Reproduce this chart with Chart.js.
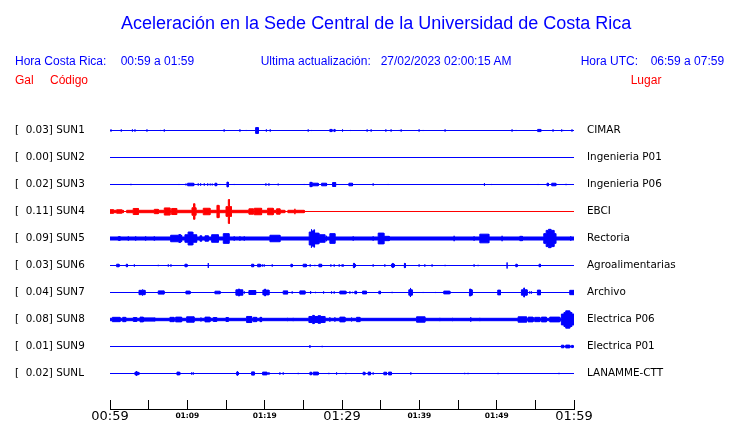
<!DOCTYPE html>
<html lang="es">
<head>
<meta charset="UTF-8">
<title>Aceleración en la Sede Central de la Universidad de Costa Rica</title>
<script src="https://cdn.jsdelivr.net/npm/chart.js@4"></script>
<style>
  html, body { margin: 0; padding: 0; background: #fff; }
  #marco { position: relative; width: 740px; height: 423px; overflow: hidden; }
  #grafico { position: absolute; left: 0; top: 0; }
  .txt { position: absolute; font-family: 'Liberation Sans', Arial, sans-serif; font-size: 12px; line-height: 14px; color: #0000ff; white-space: pre; }
  .titulo { font-size: 18px; line-height: 20px; left: 121px; top: 13px; }
  .l2 { top: 54px; }
  .l3 { top: 73px; color: #ff0000; }
</style>
</head>
<body>
<div id="marco">
  <canvas id="grafico" width="740" height="423"></canvas>
  <div class="txt titulo">Aceleración en la Sede Central de la Universidad de Costa Rica</div>
  <div class="txt l2" style="left:15px">Hora Costa Rica:</div>
  <div class="txt l2" style="left:120.7px">00:59 a 01:59</div>
  <div class="txt l2" style="left:260.7px">Ultima actualización:</div>
  <div class="txt l2" style="left:380.7px">27/02/2023 02:00:15 AM</div>
  <div class="txt l2" style="left:580.7px">Hora UTC:</div>
  <div class="txt l2" style="left:650.7px">06:59 a 07:59</div>
  <div class="txt l3" style="left:15px">Gal</div>
  <div class="txt l3" style="left:50px">Código</div>
  <div class="txt l3" style="left:630.7px">Lugar</div>
</div>
<script>
// ventana de 60 minutos, 00:59 a 01:59 hora local
const DURACION = 60;
const SEPARACION = 0.25; // gal entre una traza y la siguiente

const codigos = ['SUN1', 'SUN2', 'SUN3', 'SUN4', 'SUN5', 'SUN6', 'SUN7', 'SUN8', 'SUN9', 'SUNL'];
const maximos = [0.03, 0.00, 0.02, 0.11, 0.09, 0.03, 0.04, 0.08, 0.01, 0.02];
const lugares = ['CIMAR', 'Ingenieria P01', 'Ingenieria P06', 'EBCI', 'Rectoria', 'Agroalimentarias',
  'Archivo', 'Electrica P06', 'Electrica P01', 'LANAMME-CTT'];
const trazasRojas = ['SUN4'];
const etiquetasTiempo = ['00:59', '01:09', '01:19', '01:29', '01:39', '01:49', '01:59'];

const eventosSUN1 = [
  [0.13, 0.13, 0.01], [1.46, 1.46, 0.01], [2.9, 2.9, 0.01], [3.23, 3.23, 0.01], [4.78, 4.78, 0.01],
  [6.53, 6.53, 0.005], [7.02, 7.02, 0.01], [14.76, 14.76, 0.01], [16.8, 16.8, 0.01], [17.61, 17.61, 0.005],
  [18.83, 19.17, 0.027], [20.22, 20.22, 0.01], [20.72, 20.72, 0.01], [25.63, 25.63, 0.01], [26.07, 26.07, 0.005],
  [28.43, 28.7, 0.01], [28.95, 29.08, 0.01], [30.07, 30.07, 0.01], [31.1, 31.1, 0.005], [33.25, 33.25, 0.01],
  [33.77, 33.77, 0.01], [35.67, 35.67, 0.01], [36.35, 36.35, 0.01], [37.39, 37.39, 0.005], [37.65, 37.65, 0.01],
  [39.97, 39.97, 0.01], [40.49, 40.49, 0.005], [43.33, 43.33, 0.01], [51.99, 51.99, 0.01], [52.51, 52.51, 0.005],
  [55.3, 55.7, 0.01], [57.29, 57.29, 0.01], [58.41, 58.41, 0.01], [58.67, 58.67, 0.005], [59.74, 59.74, 0.01]
];
const eventosSUN2 = [];
const eventosSUN3 = [
  [2.71, 2.71, 0.006], [8.92, 8.92, 0.005], [9.82, 9.82, 0.008], [10.04, 10.82, 0.012], [11.41, 11.41, 0.01],
  [11.72, 11.72, 0.01], [12.19, 12.19, 0.01], [12.63, 12.63, 0.01], [12.96, 12.96, 0.008], [13.22, 13.22, 0.008],
  [13.57, 13.79, 0.012], [14.22, 14.22, 0.005], [15.12, 15.29, 0.022], [16.06, 16.06, 0.005], [20.16, 20.16, 0.01],
  [20.55, 20.55, 0.01], [21.75, 21.75, 0.008], [25.11, 25.11, 0.005], [25.85, 26.1, 0.02], [26.1, 26.92, 0.012],
  [27.36, 28.0, 0.012], [28.78, 29.17, 0.018], [30.89, 31.36, 0.012], [34.03, 34.03, 0.01], [35.97, 35.97, 0.005],
  [48.42, 48.42, 0.012], [49.33, 49.33, 0.005], [55.35, 55.35, 0.005], [56.51, 56.69, 0.012], [57.12, 57.64, 0.012],
  [58.97, 58.97, 0.006]
];
const eventosSUN4 = [
  [0, 1.72, 0.011], [2.15, 22.6, 0.011], [23.0, 25.11, 0.011],
  [0, 0.43, 0.017], [0.86, 1.51, 0.016], [3.0, 3.66, 0.028], [5.73, 6.24, 0.02], [7.02, 7.75, 0.033],
  [7.97, 8.62, 0.028], [10.6, 11.1, 0.035], [10.8, 10.95, 0.072], [12.06, 12.92, 0.03], [13.83, 14.09, 0.057],
  [15.0, 15.7, 0.045], [15.3, 15.45, 0.11], [17.96, 18.52, 0.025], [18.65, 19.6, 0.03], [20.38, 21.1, 0.03],
  [21.54, 21.97, 0.025], [23.91, 23.91, 0.025]
];
const eventosSUN5 = [
  [0, 60, 0.014],
  [1.07, 1.29, 0.018], [2.37, 2.37, 0.02], [3.32, 3.32, 0.02], [4.61, 4.61, 0.02], [5.73, 5.73, 0.02],
  [7.84, 9.26, 0.03], [8.9, 9.1, 0.036], [9.69, 11.2, 0.035], [10.1, 10.7, 0.06], [11.63, 11.85, 0.025],
  [12.28, 12.71, 0.025], [13.14, 14.0, 0.035], [14.65, 15.38, 0.045], [16.06, 16.06, 0.02], [16.8, 16.8, 0.02],
  [17.36, 17.36, 0.02], [20.68, 21.97, 0.03], [25.76, 26.0, 0.06], [26.0, 26.1, 0.085], [26.1, 26.35, 0.07],
  [26.35, 26.45, 0.08], [26.45, 27.0, 0.05], [27.05, 27.78, 0.035], [28.0, 28.0, 0.025], [28.43, 29.08, 0.045],
  [31.45, 31.45, 0.02], [34.03, 34.03, 0.02], [34.68, 35.41, 0.05], [35.41, 36.1, 0.02], [44.5, 44.5, 0.025],
  [47.08, 47.08, 0.02], [47.82, 48.98, 0.04], [50.7, 50.7, 0.025], [52.99, 53.33, 0.02], [56.09, 56.4, 0.045],
  [56.4, 57.4, 0.075], [56.7, 57.0, 0.085], [57.4, 57.64, 0.045], [59.58, 59.58, 0.02]
];
const eventosSUN6 = [
  [0.86, 1.16, 0.012], [2.1, 2.25, 0.012], [3.15, 3.15, 0.01], [6.24, 6.24, 0.006], [7.54, 7.54, 0.01],
  [7.88, 7.88, 0.01], [9.69, 9.95, 0.012], [12.71, 12.71, 0.022], [18.31, 18.57, 0.012], [19.09, 19.43, 0.012],
  [19.69, 19.69, 0.01], [19.94, 19.94, 0.01], [20.98, 20.98, 0.01], [23.39, 23.56, 0.012], [24.98, 25.37, 0.012],
  [25.89, 25.89, 0.01], [26.49, 26.49, 0.006], [27.01, 27.36, 0.012], [28.56, 28.56, 0.01], [28.99, 28.99, 0.01],
  [29.64, 29.64, 0.01], [30.02, 30.02, 0.01], [30.15, 30.15, 0.01], [31.45, 31.7, 0.013], [31.5, 31.6, 0.02],
  [34.03, 34.03, 0.01], [35.54, 35.54, 0.01], [36.4, 36.75, 0.013], [36.55, 36.6, 0.02], [38.03, 38.21, 0.013],
  [38.1, 38.15, 0.02], [39.97, 39.97, 0.01], [40.71, 40.71, 0.01], [41.65, 41.65, 0.01], [43.33, 43.33, 0.006],
  [47.08, 47.08, 0.01], [47.6, 47.6, 0.006], [51.35, 51.35, 0.028], [52.47, 52.64, 0.012], [55.48, 55.66, 0.012]
];
const eventosSUN7 = [
  [3.75, 4.52, 0.02], [4.18, 4.25, 0.028], [6.24, 6.98, 0.015], [9.82, 10.34, 0.013], [13.57, 14.22, 0.012],
  [16.28, 17.15, 0.025], [16.6, 16.75, 0.032], [17.36, 17.36, 0.01], [17.96, 18.83, 0.018], [19.77, 20.55, 0.022],
  [20.0, 20.1, 0.032], [22.4, 22.96, 0.015], [23.56, 23.56, 0.01], [24.55, 25.2, 0.015], [25.94, 25.94, 0.012],
  [26.58, 26.58, 0.006], [27.62, 27.62, 0.01], [28.65, 28.65, 0.01], [28.99, 28.99, 0.01], [29.72, 30.5, 0.013],
  [31.02, 31.02, 0.01], [31.36, 31.36, 0.006], [31.66, 31.88, 0.012], [32.66, 33.17, 0.013], [34.76, 34.98, 0.012],
  [36.48, 36.48, 0.006], [38.64, 39.07, 0.025], [38.8, 38.9, 0.042], [40.49, 40.49, 0.005], [42.09, 42.09, 0.005],
  [43.16, 43.94, 0.013], [46.43, 46.82, 0.025], [46.55, 46.65, 0.032], [50.14, 50.49, 0.022], [53.2, 53.93, 0.025],
  [53.5, 53.6, 0.042], [54.28, 54.28, 0.01], [54.5, 54.5, 0.01], [55.27, 55.66, 0.022], [59.45, 60, 0.02]
];
const eventosSUN8 = [
  [0, 60, 0.011],
  [0.3, 1.29, 0.02], [1.64, 2.03, 0.02], [3.01, 3.45, 0.018], [3.88, 4.31, 0.022], [4.31, 5.82, 0.015],
  [7.75, 8.27, 0.02], [8.49, 9.26, 0.022], [9.91, 10.86, 0.025], [11.76, 11.76, 0.018], [12.28, 12.92, 0.022],
  [13.35, 13.79, 0.018], [14.99, 15.29, 0.018], [17.66, 18.31, 0.028], [18.52, 18.96, 0.02], [19.39, 19.6, 0.02],
  [22.96, 22.96, 0.015], [23.69, 23.69, 0.015], [25.72, 27.78, 0.028], [26.2, 26.4, 0.038], [26.9, 27.2, 0.035],
  [28.43, 28.43, 0.02], [29.08, 29.08, 0.02], [29.72, 30.37, 0.022], [31.24, 31.24, 0.018], [31.88, 32.31, 0.02],
  [39.64, 40.71, 0.025], [42.65, 42.65, 0.015], [44.29, 44.29, 0.015], [46.65, 46.65, 0.02], [47.82, 47.82, 0.015],
  [52.77, 53.85, 0.025], [54.06, 54.7, 0.022], [54.92, 55.57, 0.02], [55.79, 56.43, 0.022], [56.86, 58.15, 0.022],
  [58.37, 60, 0.05], [58.7, 59.7, 0.065], [58.93, 59.45, 0.08]
];
const eventosSUN9 = [
  [25.85, 25.85, 0.012], [27.44, 27.44, 0.006], [58.37, 58.67, 0.012], [58.93, 59.45, 0.013], [59.67, 59.88, 0.01]
];
const eventosSUNL = [
  [3.23, 3.66, 0.013], [3.4, 3.45, 0.022], [3.75, 3.75, 0.01], [8.66, 9.01, 0.013], [10.56, 10.56, 0.01],
  [10.77, 10.77, 0.01], [16.37, 16.58, 0.013], [16.45, 16.5, 0.02], [18.31, 18.65, 0.015], [19.73, 20.29, 0.013],
  [20.55, 20.55, 0.012], [21.97, 21.97, 0.01], [22.4, 22.4, 0.01], [24.34, 24.34, 0.006], [25.85, 26.07, 0.012],
  [26.28, 26.92, 0.013], [28.3, 28.3, 0.006], [29.3, 29.3, 0.01], [30.5, 30.5, 0.006], [32.73, 32.95, 0.012],
  [33.38, 33.69, 0.013], [34.03, 34.03, 0.01], [35.41, 35.76, 0.012], [36.02, 36.4, 0.013], [38.9, 38.9, 0.01],
  [45.87, 45.87, 0.006], [46.3, 46.3, 0.006], [50.18, 50.18, 0.006], [58.06, 58.06, 0.006]
];
const eventos = [eventosSUN1, eventosSUN2, eventosSUN3, eventosSUN4, eventosSUN5,
  eventosSUN6, eventosSUN7, eventosSUN8, eventosSUN9, eventosSUNL];

// la primera traza queda arriba
const bases = codigos.map((c, i) => (codigos.length - 1 - i) * SEPARACION);

// area del grafico en px, y donde caen la primera y la ultima traza
const AREA_ARRIBA = 100, AREA_ABAJO = 409;
const Y_PRIMERA = 130.5, Y_ULTIMA = 373.5;
const galPorPx = (bases[0] - bases[bases.length - 1]) / (Y_ULTIMA - Y_PRIMERA);
const yMin = bases[bases.length - 1] - (AREA_ABAJO - Y_ULTIMA) * galPorPx;
const yMax = bases[0] + (Y_PRIMERA - AREA_ARRIBA) * galPorPx;

function nivel(lista, a, b) {
  let m = 0;
  for (const e of lista) {
    if (e[0] <= a && e[1] >= b && e[2] > m) m = e[2];
  }
  return m;
}

// contorno cerrado (arriba de izq a der, abajo de der a izq) de una traza
function contorno(lista, base) {
  const cortes = Array.from(new Set([0, DURACION].concat(lista.flatMap(e => [e[0], e[1]]))))
    .sort((p, q) => p - q);
  const arriba = [];
  cortes.forEach((t, k) => {
    if (k > 0) arriba.push([t, nivel(lista, cortes[k - 1], t)]);
    arriba.push([t, nivel(lista, t, t)]);
    if (k < cortes.length - 1) arriba.push([t, nivel(lista, t, cortes[k + 1])]);
  });
  const sup = arriba.map(p => ({ x: p[0], y: base + p[1] }));
  const inf = arriba.slice().reverse().map(p => ({ x: p[0], y: base - p[1] }));
  return sup.concat(inf);
}

const datasets = codigos.map((cod, i) => {
  const color = trazasRojas.includes(cod) ? '#ff0000' : '#0000ff';
  return {
    label: cod,
    data: contorno(eventos[i], bases[i]),
    borderColor: color,
    backgroundColor: color,
    borderWidth: 1,
    pointRadius: 0,
    tension: 0,
    fill: 'shape'
  };
});

const fuenteTraza = { family: 'DejaVu Sans', size: 10.4 };
const ticksTrazas = scale => { scale.ticks = bases.map(v => ({ value: v })); };

new Chart(document.getElementById('grafico'), {
  type: 'line',
  data: { datasets },
  options: {
    responsive: false,
    animation: false,
    events: [],
    layout: { padding: { left: 15, top: AREA_ARRIBA, right: 0, bottom: 0 } },
    plugins: { legend: { display: false }, tooltip: { enabled: false } },
    scales: {
      x: {
        type: 'linear',
        position: 'bottom',
        min: 0,
        max: DURACION,
        afterFit: scale => { scale.height = 14; },
        ticks: {
          stepSize: 5,
          autoSkip: false,
          maxRotation: 0,
          padding: 8.5,
          color: '#000',
          callback: v => (v % 10 === 0 ? etiquetasTiempo[v / 10] : ''),
          font: ctx => (ctx.tick && ctx.tick.value % 30 === 0
            ? { family: 'DejaVu Sans', size: 13, lineHeight: '16px' }
            : { family: 'DejaVu Sans', size: 7.5, weight: 'bold', lineHeight: '16px' })
        },
        grid: { drawOnChartArea: false, drawTicks: true, tickLength: -9, color: '#000', lineWidth: 1 },
        border: { display: true, color: '#000', width: 1 }
      },
      y: {
        position: 'left',
        min: yMin,
        max: yMax,
        afterFit: scale => { scale.width = 95; },
        afterBuildTicks: ticksTrazas,
        ticks: {
          autoSkip: false,
          crossAlign: 'far',
          padding: 0,
          color: '#000',
          font: fuenteTraza,
          callback: (v, i) => '[  ' + maximos[i].toFixed(2) + '] ' + codigos[i]
        },
        grid: { display: false, drawTicks: false },
        border: { display: false }
      },
      y2: {
        position: 'right',
        min: yMin,
        max: yMax,
        afterFit: scale => { scale.width = 166; },
        afterBuildTicks: ticksTrazas,
        ticks: {
          autoSkip: false,
          padding: 0,
          color: '#000',
          font: fuenteTraza,
          callback: (v, i) => lugares[i]
        },
        // separacion de 13 px entre la traza y el nombre (sin padding vertical extra)
        grid: { display: false, drawTicks: true, tickLength: 13 },
        border: { display: false }
      }
    }
  }
});
</script>
</body>
</html>
